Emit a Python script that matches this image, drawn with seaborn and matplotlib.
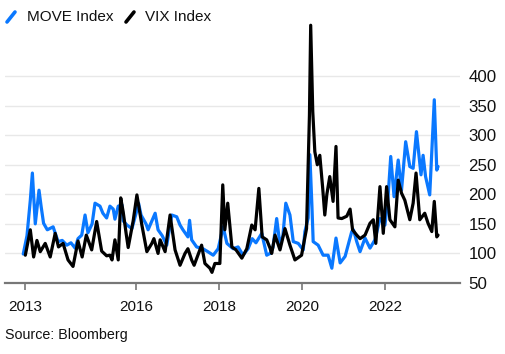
import matplotlib
matplotlib.use("Agg")
import matplotlib.pyplot as plt
from matplotlib.lines import Line2D
import seaborn as sns

# MOVE Index (rebased)
move_years = [2013.28, 2013.37, 2013.45, 2013.50, 2013.57, 2013.66, 2013.71, 2013.77, 2013.86, 2014.00,
              2014.12, 2014.22, 2014.33, 2014.43, 2014.53, 2014.60, 2014.69, 2014.77, 2014.84, 2014.94,
              2015.01, 2015.13, 2015.20, 2015.29, 2015.37, 2015.45, 2015.49, 2015.57, 2015.66, 2015.69,
              2015.78, 2015.90, 2016.02, 2016.06, 2016.12, 2016.24, 2016.29, 2016.46, 2016.53, 2016.63,
              2016.74, 2016.86, 2016.98, 2017.06, 2017.13, 2017.25, 2017.29, 2017.34, 2017.46, 2017.61,
              2017.73, 2017.86, 2017.98, 2018.10, 2018.19, 2018.34, 2018.46, 2018.58, 2018.70, 2018.80,
              2018.89, 2019.03, 2019.15, 2019.23, 2019.30, 2019.39, 2019.47, 2019.54, 2019.61, 2019.71,
              2019.79, 2019.91, 2020.03, 2020.07, 2020.15, 2020.19, 2020.24, 2020.27, 2020.39, 2020.51,
              2020.63, 2020.72, 2020.82, 2020.92, 2021.04, 2021.20, 2021.24, 2021.32, 2021.40, 2021.52,
              2021.64, 2021.76, 2021.88, 2022.00, 2022.07, 2022.14, 2022.22, 2022.32, 2022.40, 2022.50,
              2022.60, 2022.68, 2022.76, 2022.87, 2022.92, 2022.98, 2023.08, 2023.19, 2023.25, 2023.28]
move_vals = [99, 130, 190, 236, 150, 207, 180, 151, 140, 145,
             120, 122, 114, 118, 109, 125, 131, 165, 135, 150,
             185, 180, 168, 160, 180, 175, 158, 180, 182, 155,
             148, 142, 173, 185, 165, 150, 140, 168, 140, 130,
             114, 165, 162, 148, 140, 128, 156, 123, 111, 108,
             103, 97, 108, 145, 117, 108, 111, 97, 108, 125,
             118, 134, 97, 100, 110, 159, 114, 130, 185, 165,
             120, 117, 106, 137, 160, 267, 180, 120, 114, 97,
             97, 75, 126, 84, 95, 137, 140, 120, 103, 126,
             109, 123, 159, 148, 190, 264, 196, 258, 207, 289,
             247, 244, 306, 233, 266, 230, 199, 360, 241, 247]

# VIX Index (rebased)
vix_years = [2013.33, 2013.45, 2013.53, 2013.61, 2013.69, 2013.81, 2013.93, 2014.05, 2014.13, 2014.24,
             2014.36, 2014.48, 2014.60, 2014.70, 2014.80, 2014.93, 2015.05, 2015.17, 2015.29, 2015.37,
             2015.42, 2015.49, 2015.57, 2015.63, 2015.69, 2015.76, 2015.81, 2015.93, 2016.02, 2016.14,
             2016.26, 2016.38, 2016.43, 2016.53, 2016.58, 2016.70, 2016.82, 2016.94, 2017.06, 2017.18,
             2017.25, 2017.34, 2017.40, 2017.58, 2017.66, 2017.78, 2017.83, 2017.90, 2018.02, 2018.09,
             2018.14, 2018.21, 2018.31, 2018.41, 2018.55, 2018.67, 2018.79, 2018.87, 2018.96, 2019.04,
             2019.15, 2019.23, 2019.27, 2019.35, 2019.47, 2019.59, 2019.71, 2019.83, 2019.99, 2020.11,
             2020.18, 2020.21, 2020.26, 2020.31, 2020.37, 2020.43, 2020.50, 2020.55, 2020.60, 2020.67,
             2020.75, 2020.82, 2020.87, 2020.96, 2021.08, 2021.16, 2021.22, 2021.32, 2021.40, 2021.52,
             2021.64, 2021.72, 2021.78, 2021.88, 2021.96, 2022.04, 2022.12, 2022.24, 2022.32, 2022.40,
             2022.48, 2022.60, 2022.68, 2022.75, 2022.84, 2022.96, 2023.04, 2023.13, 2023.19, 2023.25,
             2023.28]
vix_vals = [97, 140, 94, 122, 103, 117, 94, 134, 111, 117,
            89, 78, 121, 94, 131, 106, 154, 104, 96, 97,
            89, 123, 89, 194, 170, 134, 110, 155, 199, 148,
            103, 117, 125, 100, 123, 103, 165, 106, 80, 100,
            108, 89, 80, 114, 83, 75, 68, 83, 83, 216,
            140, 185, 111, 106, 92, 108, 148, 140, 210, 128,
            123, 109, 100, 131, 106, 142, 114, 89, 97, 142,
            334, 486, 340, 272, 250, 266, 210, 165, 200, 230,
            188, 281, 160, 159, 163, 175, 140, 131, 125, 131,
            151, 157, 117, 213, 134, 213, 157, 145, 224, 202,
            190, 157, 185, 236, 157, 168, 151, 137, 188, 128,
            131]

tick_pos = [2013.33, 2016, 2018, 2020, 2022]
tick_labels = ["2013", "2016", "2018", "2020", "2022"]
y_ticks = [50, 100, 150, 200, 250, 300, 350, 400]

blue = "#0a78ff"

sns.set_theme(style="white")
plt.rcParams["font.family"] = ["Liberation Sans", "DejaVu Sans"]

fig = plt.figure(figsize=(5.05, 3.54), dpi=100)
ax = fig.add_axes([0.0099, 0.2006, 0.9010, 0.7514])

sns.lineplot(x=move_years, y=move_vals, color=blue, linewidth=2.3, ax=ax)
sns.lineplot(x=vix_years, y=vix_vals, color="black", linewidth=2.3, ax=ax)

ax.set_xlim(2012.84, 2023.81)
ax.set_ylim(50, 500)
ax.set_yticks(y_ticks)
ax.yaxis.tick_right()
ax.tick_params(axis="y", length=0, pad=6, labelsize=12.2, colors="#111111")
ax.set_xticks(tick_pos)
ax.set_xticklabels(tick_labels)
ax.tick_params(axis="x", length=5, width=1.2, color="#777777", pad=7, labelsize=11, labelcolor="#111111",
               bottom=True)
ax.grid(axis="y", color="#e8e8e8", linewidth=1.0)
ax.grid(axis="x", visible=False)
for side in ["top", "right", "left"]:
    ax.spines[side].set_visible(False)
ax.spines["bottom"].set_color("#777777")
ax.spines["bottom"].set_linewidth(1.6)
ax.set_xlabel("")
ax.set_ylabel("")

# legend at top left, diagonal swatches
fig.add_artist(Line2D([7 / 505, 15 / 505], [1 - 22 / 354, 1 - 12 / 354], color=blue, linewidth=2.6,
                      transform=fig.transFigure))
fig.text(27 / 505, 1 - 17 / 354, "MOVE Index", fontsize=11, va="center", ha="left", color="#111111")
fig.add_artist(Line2D([126 / 505, 134 / 505], [1 - 22 / 354, 1 - 12 / 354], color="black", linewidth=2.6,
                      transform=fig.transFigure))
fig.text(145 / 505, 1 - 17 / 354, "VIX Index", fontsize=11, va="center", ha="left", color="#111111")

fig.text(5 / 505, 1 - 335 / 354, "Source: Bloomberg", fontsize=10.3, va="center", ha="left", color="#111111")

fig.savefig("out.png", dpi=100)
